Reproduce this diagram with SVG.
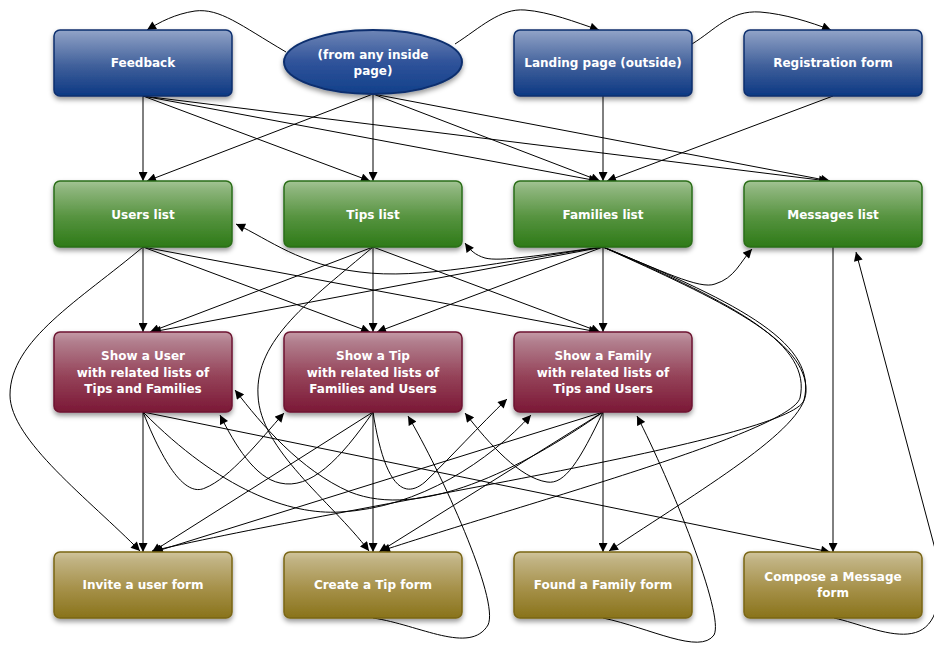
<svg xmlns="http://www.w3.org/2000/svg" width="934" height="648" viewBox="0 0 934 648">
  <defs>
    <linearGradient id="gBlue" x1="0" y1="0" x2="0" y2="1">
      <stop offset="0" stop-color="#93a5c8"/>
      <stop offset="0.12" stop-color="#7f94bd"/>
      <stop offset="0.55" stop-color="#3f5f9a"/>
      <stop offset="1" stop-color="#0c3883"/>
    </linearGradient>
    <linearGradient id="gOval" x1="0" y1="0" x2="0" y2="1">
      <stop offset="0" stop-color="#6f86b6"/>
      <stop offset="0.5" stop-color="#30539a"/>
      <stop offset="1" stop-color="#12408a"/>
    </linearGradient>
    <linearGradient id="gGreen" x1="0" y1="0" x2="0" y2="1">
      <stop offset="0" stop-color="#a3c495"/>
      <stop offset="0.12" stop-color="#8db57c"/>
      <stop offset="0.55" stop-color="#56933f"/>
      <stop offset="1" stop-color="#2d7a17"/>
    </linearGradient>
    <linearGradient id="gRed" x1="0" y1="0" x2="0" y2="1">
      <stop offset="0" stop-color="#c59aa6"/>
      <stop offset="0.12" stop-color="#b27f8e"/>
      <stop offset="0.55" stop-color="#954359"/>
      <stop offset="1" stop-color="#7b1836"/>
    </linearGradient>
    <linearGradient id="gOlive" x1="0" y1="0" x2="0" y2="1">
      <stop offset="0" stop-color="#d1c59d"/>
      <stop offset="0.12" stop-color="#c1b383"/>
      <stop offset="0.55" stop-color="#a6914a"/>
      <stop offset="1" stop-color="#89731a"/>
    </linearGradient>
    <filter id="shadow" x="-10%" y="-10%" width="120%" height="135%">
      <feDropShadow dx="0" dy="3" stdDeviation="2.5" flood-color="#000" flood-opacity="0.4"/>
    </filter>
    <marker id="arrow" viewBox="0 0 10 10" refX="10" refY="5" markerWidth="10" markerHeight="9" markerUnits="userSpaceOnUse" orient="auto-start-reverse">
      <path d="M0,0 L10,5 L0,10 z" fill="#000"/>
    </marker>
  </defs>
  <style>
    .blue { fill: url(#gBlue); stroke: #0b2f6e; stroke-width: 1.5; filter: url(#shadow); }
    .oval { fill: url(#gOval); stroke: #0b2f6e; stroke-width: 2; filter: url(#shadow); }
    .green { fill: url(#gGreen); stroke: #2a6d18; stroke-width: 1.5; filter: url(#shadow); }
    .red { fill: url(#gRed); stroke: #6d1430; stroke-width: 1.5; filter: url(#shadow); }
    .olive { fill: url(#gOlive); stroke: #7a6615; stroke-width: 1.5; filter: url(#shadow); }
    .label { fill: #fff; font-family: "DejaVu Sans", "Liberation Sans", sans-serif; font-weight: bold; font-size: 12px; text-anchor: middle; }
    .edges path { fill: none; stroke: #000; stroke-width: 1; marker-end: url(#arrow); }
  </style>

  <rect width="934" height="648" fill="#fff"/>

  <!-- connectors -->
  <g id="connectors" class="edges">
    <!-- top-row curves -->
    <path d="M286,52 C240,25 220,8 195,11 C175,14 160,22 147,30"/>
    <path d="M455,44 C480,28 500,8 525,10 C550,12 575,22 599,30"/>
    <path d="M692,44 C715,30 730,10 760,12 C785,14 810,22 831,30"/>
    <!-- entry pages to lists -->
    <path d="M143,96 L143,181"/>
    <path d="M143,96 L370,181"/>
    <path d="M143,96 L598,181"/>
    <path d="M143,96 L828,181"/>
    <path d="M373,94 L147,181"/>
    <path d="M373,94 L373,181"/>
    <path d="M373,94 L600,181"/>
    <path d="M373,94 L830,181"/>
    <path d="M603,96 L603,181"/>
    <path d="M833,96 L607,181"/>
    <!-- Users list -->
    <path d="M143,247 L143,332"/>
    <path d="M143,247 L370,332"/>
    <path d="M143,247 L598,332"/>
    <path d="M143,247 C80,300 10,340 10,395 C10,440 90,500 140,551"/>
    <!-- Tips list -->
    <path d="M373,247 L373,332"/>
    <path d="M373,247 L150,332"/>
    <path d="M373,247 L600,332"/>
    <path d="M373,247 C310,300 255,340 258,395 C260,450 330,500 369,551"/>
    <!-- Families list -->
    <path d="M603,247 L603,332"/>
    <path d="M603,247 L152,332"/>
    <path d="M603,247 L377,332"/>
    <path d="M603,247 C500,262 420,280 360,272 C300,265 270,240 236,224"/>
    <path d="M603,247 C540,255 500,262 485,258 C475,255 470,250 465,243"/>
    <path d="M603,247 C660,270 700,290 715,284 C735,278 740,262 752,249"/>
    <path d="M603,247 C720,300 808,340 806,392 C804,430 700,490 609,551"/>
    <path d="M603,247 C738,305 812,345 800,398 C790,432 520,505 381,551"/>
    <path d="M603,247 C745,305 818,345 804,400 C792,440 350,505 152,551"/>
    <!-- Messages list -->
    <path d="M833,247 L833,552"/>
    <!-- Show a User -->
    <path d="M143,412 L143,552"/>
    <path d="M143,412 L830,552"/>
    <path d="M143,412 C170,480 190,495 205,488 C230,478 260,440 284,413"/>
    <path d="M143,412 C220,490 290,515 340,512 C420,508 490,460 531,415"/>
    <!-- Show a Tip -->
    <path d="M373,412 L373,552"/>
    <path d="M373,412 L152,552"/>
    <path d="M373,412 C340,460 310,490 280,483 C255,478 235,445 220,415"/>
    <path d="M373,412 C382,470 398,505 425,482 C450,458 480,425 507,399"/>
    <!-- Show a Family -->
    <path d="M603,412 L603,552"/>
    <path d="M603,412 C580,460 565,485 547,482 C520,478 490,445 465,413"/>
    <path d="M603,412 C520,470 420,520 350,492 C300,470 262,425 235,390"/>
    <path d="M603,412 L379,552"/>
    <path d="M603,412 L154,552"/>
    <!-- forms back to pages -->
    <path d="M373,618 C420,625 470,655 488,625 C500,600 440,470 408,416"/>
    <path d="M603,618 C650,628 700,655 714,635 C725,615 670,480 637,416"/>
    <path d="M834,618 C880,628 950,670 938,560 L856,252"/>
  </g>

  <!-- nodes -->
  <g id="feedback"><rect class="blue" x="54" y="30" width="178" height="66" rx="6"/><text class="label" x="143" y="66.5">Feedback</text></g>
  <g id="any-inside-page"><ellipse class="oval" cx="373" cy="62" rx="89" ry="32"/><text class="label" x="373" y="58.5">(from any inside</text><text class="label" x="373" y="75">page)</text></g>
  <g id="landing-page"><rect class="blue" x="514" y="30" width="178" height="66" rx="6"/><text class="label" x="603" y="66.5">Landing page (outside)</text></g>
  <g id="registration-form"><rect class="blue" x="744" y="30" width="178" height="66" rx="6"/><text class="label" x="833" y="66.5">Registration form</text></g>

  <g id="users-list"><rect class="green" x="54" y="181" width="178" height="66" rx="6"/><text class="label" x="143" y="218.5">Users list</text></g>
  <g id="tips-list"><rect class="green" x="284" y="181" width="178" height="66" rx="6"/><text class="label" x="373" y="218.5">Tips list</text></g>
  <g id="families-list"><rect class="green" x="514" y="181" width="178" height="66" rx="6"/><text class="label" x="603" y="218.5">Families list</text></g>
  <g id="messages-list"><rect class="green" x="744" y="181" width="178" height="66" rx="6"/><text class="label" x="833" y="218.5">Messages list</text></g>

  <g id="show-user"><rect class="red" x="54" y="332" width="178" height="80" rx="6"/><text class="label" x="143" y="360">Show a User</text><text class="label" x="143" y="376.5">with related lists of</text><text class="label" x="143" y="393">Tips and Families</text></g>
  <g id="show-tip"><rect class="red" x="284" y="332" width="178" height="80" rx="6"/><text class="label" x="373" y="360">Show a Tip</text><text class="label" x="373" y="376.5">with related lists of</text><text class="label" x="373" y="393">Families and Users</text></g>
  <g id="show-family"><rect class="red" x="514" y="332" width="178" height="80" rx="6"/><text class="label" x="603" y="360">Show a Family</text><text class="label" x="603" y="376.5">with related lists of</text><text class="label" x="603" y="393">Tips and Users</text></g>

  <g id="invite-user-form"><rect class="olive" x="54" y="552" width="178" height="66" rx="6"/><text class="label" x="143" y="588.5">Invite a user form</text></g>
  <g id="create-tip-form"><rect class="olive" x="284" y="552" width="178" height="66" rx="6"/><text class="label" x="373" y="588.5">Create a Tip form</text></g>
  <g id="found-family-form"><rect class="olive" x="514" y="552" width="178" height="66" rx="6"/><text class="label" x="603" y="588.5">Found a Family form</text></g>
  <g id="compose-message-form"><rect class="olive" x="744" y="552" width="178" height="66" rx="6"/><text class="label" x="833" y="580.5">Compose a Message</text><text class="label" x="833" y="597">form</text></g>
</svg>
